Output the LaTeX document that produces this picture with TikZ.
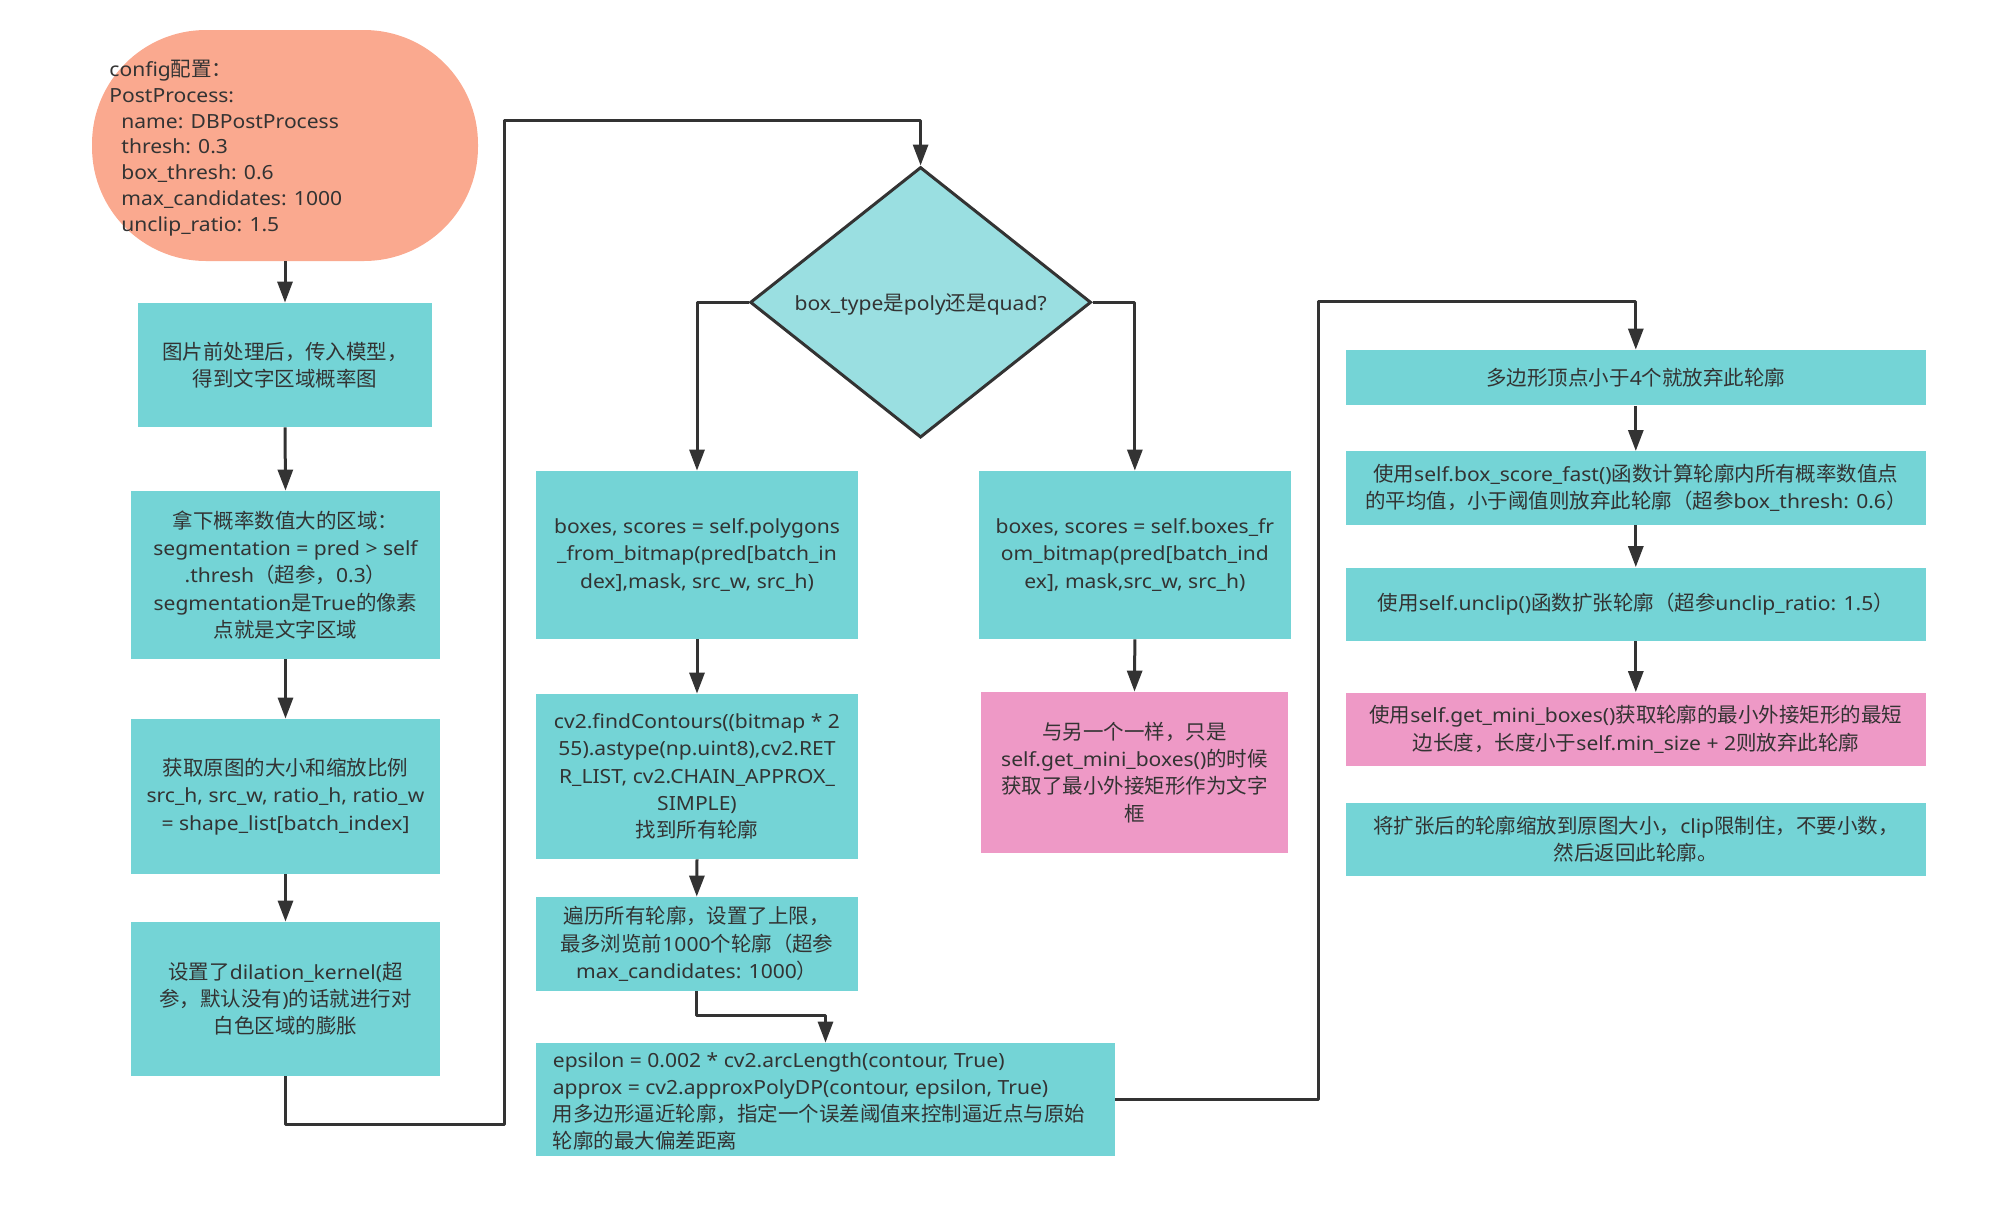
\documentclass[tikz,border=0pt]{standalone}
\usepackage{fontspec}
\setmainfont[FakeStretch=1.08]{Noto Sans}
\newfontfamily\cjkfont[Scale=1.05]{Noto Sans CJK SC}
\usetikzlibrary{arrows.meta,shapes.geometric}
\XeTeXinterchartokenstate=1
\newXeTeXintercharclass\cjkclass
\newcount\cjkcnt
\def\setcjkrange#1#2{\cjkcnt=#1\relax\loop\XeTeXcharclass\cjkcnt=\cjkclass\relax\ifnum\cjkcnt<#2\relax\advance\cjkcnt by 1\relax\repeat}
\setcjkrange{"3000}{"303F}
\setcjkrange{"4E00}{"9FFF}
\setcjkrange{"FF00}{"FFEF}
\XeTeXinterchartoks 0 \cjkclass = {\cjkfont}
\XeTeXinterchartoks 4095 \cjkclass = {\cjkfont}
\XeTeXinterchartoks \cjkclass 0 = {\normalfont}
\XeTeXinterchartoks \cjkclass 4095 = {\normalfont}
\definecolor{boxteal}{HTML}{74D4D6}
\definecolor{diateal}{HTML}{9ADFE1}
\definecolor{salmonfill}{HTML}{FAA98F}
\definecolor{pinkfill}{HTML}{EE99C6}
\definecolor{ink}{HTML}{333333}
\begin{document}
\begin{tikzpicture}[x=0.5pt,y=-0.5pt,
  txt/.style={font=\fontsize{9.75pt}{13.6pt}\selectfont, text=ink},
  tbox/.style={txt, rectangle, fill=boxteal, inner sep=0pt, align=center},
  pbox/.style={tbox, fill=pinkfill},
  conn/.style={draw=ink, line width=1.5pt, line join=round, -{Triangle[length=10.5pt,width=7.5pt]}}]
\useasboundingbox (0,0) rectangle (2010,1212);
% config oval
\node[fill=salmonfill, rounded corners=57pt, inner sep=0pt, minimum width=193pt, minimum height=115.5pt] (cfg) at (285,145.5) {};
\node[txt, anchor=west, align=left, inner sep=0pt, font=\fontsize{9.75pt}{12.9pt}\selectfont] (cfgtext) at (109,148)
 {config配置：\\PostProcess:\\\hspace*{6pt}name: DBPostProcess\\\hspace*{6pt}thresh: 0.3\\\hspace*{6pt}box\_thresh: 0.6\\\hspace*{6pt}max\_candidates: 1000\\\hspace*{6pt}unclip\_ratio: 1.5};
% left column
\node[tbox, minimum width=147pt, minimum height=62pt] (b1) at (285,365) {图片前处理后，传入模型，\\得到文字区域概率图};
\node[tbox, minimum width=154.5pt, minimum height=84pt] (b2) at (285.5,575) {拿下概率数值大的区域：\\segmentation = pred > self\\.thresh（超参，0.3）\\segmentation是True的像素\\点就是文字区域};
\node[tbox, minimum width=154.5pt, minimum height=77.5pt] (b3) at (285.5,796.5) {获取原图的大小和缩放比例\\src\_h, src\_w, ratio\_h, ratio\_w\\= shape\_list[batch\_index]};
\node[tbox, minimum width=154.5pt, minimum height=77pt] (b4) at (285.5,999) {设置了dilation\_kernel(超\\参，默认没有)的话就进行对\\白色区域的膨胀};
% diamond
\node[txt, diamond, fill=diateal, draw=ink, line width=1.5pt, inner sep=0pt, shape aspect=1.26, text depth=0pt,
  minimum width=170.5pt, minimum height=135.3pt] (dia) at (920.6,302.3) {box\_type是poly还是quad?};
% middle column
\node[tbox, minimum width=161pt, minimum height=84pt] (b5) at (697,555) {boxes, scores = self.polygons\\\_from\_bitmap(pred[batch\_in\\dex],mask, src\_w, src\_h)};
\node[tbox, minimum width=161pt, minimum height=82.5pt] (b6) at (697,776.5) {cv2.findContours((bitmap * 2\\55).astype(np.uint8),cv2.RET\\R\_LIST, cv2.CHAIN\_APPROX\_\\SIMPLE)\\找到所有轮廓};
\node[tbox, minimum width=160.75pt, minimum height=47pt] (b7) at (696.75,944) {遍历所有轮廓，设置了上限，\\最多浏览前1000个轮廓（超参\\max\_candidates: 1000）};
\node[tbox, minimum width=289.5pt, minimum height=56.5pt] (b8) at (825.5,1099.5) {};
\node[txt, anchor=west, align=left, inner sep=0pt] (b8text) at (552.5,1101.5) {epsilon = 0.002 * cv2.arcLength(contour, True)\\approx = cv2.approxPolyDP(contour, epsilon, True)\\用多边形逼近轮廓，指定一个误差阈值来控制逼近点与原始\\轮廓的最大偏差距离};
% quad column
\node[tbox, minimum width=155.85pt, minimum height=84pt] (r1) at (1134.85,555) {boxes, scores = self.boxes\_fr\\om\_bitmap(pred[batch\_ind\\ex], mask,src\_w, src\_h)};
\node[pbox, minimum width=153.5pt, minimum height=80.5pt] (pk) at (1134.5,772.5) {与另一个一样，只是\\self.get\_mini\_boxes()的时候\\获取了最小外接矩形作为文字\\框};
% right column
\node[tbox, minimum width=290.2pt, minimum height=27.7pt] (b9) at (1635.8,377.7) {多边形顶点小于4个就放弃此轮廓};
\node[tbox, minimum width=290.2pt, minimum height=36.8pt] (b10) at (1635.8,488.2) {使用self.box\_score\_fast()函数计算轮廓内所有概率数值点\\的平均值，小于阈值则放弃此轮廓（超参box\_thresh: 0.6）};
\node[tbox, minimum width=290.2pt, minimum height=36.75pt] (b11) at (1635.8,604.25) {使用self.unclip()函数扩张轮廓（超参unclip\_ratio: 1.5）};
\node[pbox, minimum width=290.2pt, minimum height=36.75pt] (b12) at (1635.8,729.25) {使用self.get\_mini\_boxes()获取轮廓的最小外接矩形的最短\\边长度，长度小于self.min\_size + 2则放弃此轮廓};
\node[tbox, minimum width=290.2pt, minimum height=36.6pt] (b13) at (1635.8,839.1) {将扩张后的轮廓缩放到原图大小，clip限制住，不要小数，\\然后返回此轮廓。};
% route points
\coordinate (p1) at (504,1124);
\coordinate (p2) at (504,120);
\coordinate (p4) at (1318.5,301.7);
% connectors
\draw[conn] (cfg.south) -- (b1.north);
\draw[conn] (b1.south) -- (b2.north);
\draw[conn] (b2.south) -- (b3.north);
\draw[conn] (b3.south) -- (b4.north);
\draw[conn] (b4.south) |- (p1) -- (p2) -| (dia.north);
\draw[conn] (dia.west) -| (b5.north);
\draw[conn] (dia.east) -| (r1.north);
\draw[conn] (b5.south) -- (b6.north);
\draw[conn] (b6.south) -- (b7.north);
\draw[conn] (b7.south) -- ++(0,24) -| (b8.north);
\draw[conn] (r1.south) -- (pk.north);
\draw[conn] (b8.east) -| (p4) -| (b9.north);
\draw[conn] (b9.south) -- (b10.north);
\draw[conn] (b10.south) -- (b11.north);
\draw[conn] (b11.south) -- (b12.north);
\end{tikzpicture}
\end{document}
